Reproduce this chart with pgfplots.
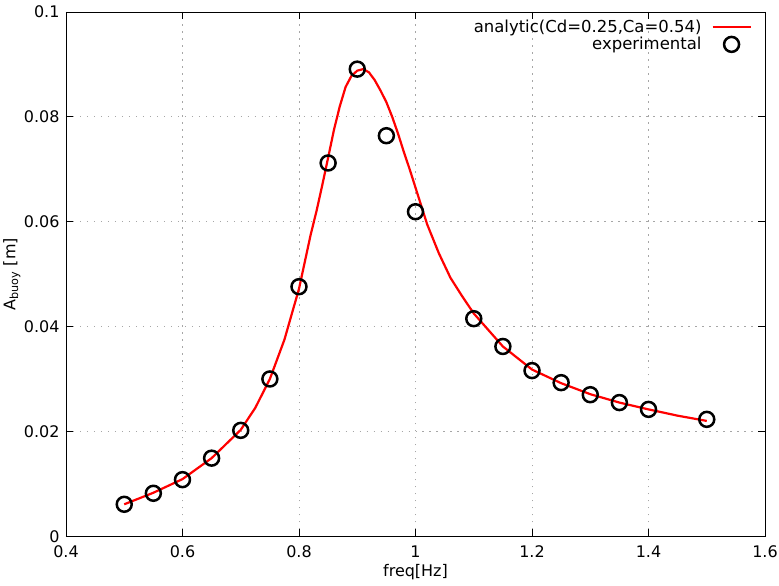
\documentclass[border=0pt]{standalone}
\usepackage{fontspec}
\setmainfont{DejaVu Sans}
\usepackage{pgfplots}
\pgfplotsset{compat=1.18}
\begin{document}
\begin{tikzpicture}
\begin{axis}[
  scale only axis,
  width=700pt, height=525pt,
  xmin=0.4, xmax=1.6, ymin=0, ymax=0.1,
  xtick={0.4,0.6,0.8,1.0,1.2,1.4,1.6},
  xticklabels={0.4,0.6,0.8,1,1.2,1.4,1.6},
  ytick={0,0.02,0.04,0.06,0.08,0.1},
  yticklabels={0,0.02,0.04,0.06,0.08,0.1},
  scaled ticks=false,
  /pgf/number format/assume math mode=true,
  tick align=inside,
  major tick length=7pt,
  tick style={black, line width=0.8pt},
  axis line style={black, line width=0.9pt},
  grid=major,
  grid style={gray!70, line width=0.8pt, dash pattern=on 1.5pt off 5.5pt},
  font=\fontsize{16}{19}\selectfont,
  xticklabel style={inner sep=1pt, yshift=-8.3pt},
  yticklabel style={inner sep=1pt, xshift=-5.3pt},
  xlabel={freq[Hz]},
  ylabel={A\textsubscript{buoy} [m]},
  xlabel style={yshift=-2pt},
  ylabel style={yshift=-1pt},
  legend plot pos=right,
  legend cell align=right,
  legend style={at={(rel axis cs:0.984,0.992)}, anchor=north east, draw=none, fill=none,
    font=\fontsize{16.5}{19}\selectfont, row sep=-1pt, column sep=8pt, inner sep=2pt},
  legend image code/.code={\draw[mark repeat=2,mark phase=2,#1] plot coordinates {(0pt,0pt) (19pt,0pt) (38pt,0pt)};},
]
\addplot[red, line width=2.2pt, no marks] coordinates {
(0.50,0.0061) (0.55,0.0083) (0.60,0.0109) (0.65,0.0149) (0.70,0.0203)
(0.725,0.0245) (0.75,0.0300) (0.775,0.0375) (0.80,0.0472) (0.82,0.0575)
(0.83,0.0620) (0.84,0.0670) (0.85,0.0722) (0.86,0.0775) (0.87,0.0820)
(0.88,0.0857) (0.89,0.0878) (0.90,0.0888) (0.91,0.0891) (0.92,0.0885)
(0.93,0.0870) (0.94,0.0850) (0.95,0.0828) (0.96,0.0800) (0.97,0.0768)
(0.98,0.0733) (0.99,0.0700) (1.00,0.0665) (1.02,0.0595) (1.04,0.0540)
(1.06,0.0493) (1.08,0.0458) (1.10,0.0425) (1.15,0.0362) (1.20,0.0318)
(1.25,0.0292) (1.30,0.0271) (1.35,0.0255) (1.40,0.0242) (1.45,0.0230)
(1.50,0.0220)
};
\addlegendentry{analytic(Cd=0.25,Ca=0.54)}
\addplot[only marks, mark=o, mark size=7.5pt, black, line width=2.5pt] coordinates {
(0.50,0.0061) (0.55,0.0082) (0.60,0.0108) (0.65,0.0149) (0.70,0.0202)
(0.75,0.0300) (0.80,0.0476) (0.85,0.0712) (0.90,0.0891) (0.95,0.0764)
(1.00,0.0619) (1.10,0.0415) (1.15,0.0362) (1.20,0.0316) (1.25,0.0293)
(1.30,0.0270) (1.35,0.0255) (1.40,0.0242) (1.50,0.0223)
};
\addlegendentry{experimental}
\end{axis}
\path (-65pt,-49pt) rectangle (714pt,537pt);
\end{tikzpicture}
\end{document}
